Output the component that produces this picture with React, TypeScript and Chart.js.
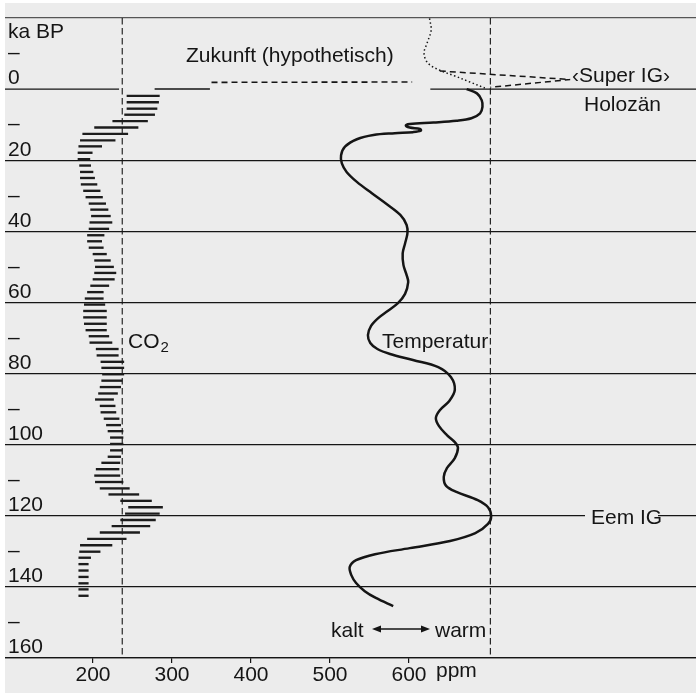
import React, { useEffect, useRef } from 'react';
import { Chart, registerables } from 'chart.js';

Chart.register(...registerables);

const FONT = "'Liberation Sans', Arial, sans-serif";
const INK = '#151515';
const BG = '#ececec';

// Axis ranges / ticks
const X_MIN = 88.6;
const X_MAX = 963.3;
const xTickValues = [200, 300, 400, 500, 600];
const Y_MIN = -20;
const Y_MAX = 160;

// CO2 range bars (ka BP, low ppm, high ppm)
const co2Ka = [
  1.9, 3.7, 5.5, 7.2, 9.0, 10.8, 12.6, 14.4, 16.1, 17.9,
  19.7, 21.5, 23.3, 25.0, 26.8, 28.6, 30.4, 32.2, 33.9, 35.7,
  37.5, 39.3, 41.1, 42.8, 44.6, 46.4, 48.2, 50.0, 51.7, 53.5,
  55.3, 57.1, 58.9, 60.6, 62.4, 64.2, 66.0, 67.8, 69.5, 71.3,
  73.1, 74.9, 76.7, 78.4, 80.2, 82.0, 83.8, 85.6, 87.3, 89.1,
  90.9, 92.7, 94.5, 96.2, 98.0, 99.8, 101.6, 103.4, 105.1, 106.9,
  108.7, 110.5, 112.3, 114.0, 115.8, 117.6, 119.4, 121.2, 122.9, 124.7,
  126.5, 128.3, 130.1, 131.8, 133.6, 135.4, 137.2, 139.0, 140.7, 142.5,
];
const co2Low = [
  243, 243, 243, 240, 225, 202, 187, 184, 182, 181,
  181, 183, 184, 184, 185, 188, 191, 195, 197, 198,
  196, 195, 193, 193, 195, 200, 202, 203, 202, 200,
  197, 193, 190, 189, 188, 188, 189, 191, 195, 196,
  204, 205, 210, 211, 212, 211, 209, 207, 203, 209,
  210, 214, 217, 219, 222, 222, 222, 219, 211, 204,
  202, 203, 209, 220, 235, 245, 241, 235, 224, 209,
  193, 184, 183, 182, 182, 182, 182, 182, 182, 182,
];
const co2High = [
  284, 283, 281, 278, 269, 257, 244, 228, 211, 199,
  196, 197, 200, 202, 205, 209, 212, 216, 219, 222,
  224, 220, 214, 211, 213, 217, 222, 226, 229, 227,
  220, 213, 213, 215, 217, 217, 217, 217, 220, 224,
  232, 232, 239, 239, 239, 237, 235, 231, 226, 228,
  229, 233, 235, 238, 238, 238, 237, 235, 234, 233,
  234, 238, 246, 258, 274, 288, 284, 279, 272, 259,
  242, 224, 209, 197, 194, 194, 194, 194, 194, 194,
];

// Present-day CO2 and hypothetical future
const co2NowKa = [0, 0];
const co2NowPpm = [278, 348];
const futureKa = [-1.9, -2.0];
const futurePpm = [350, 604];

// Temperature curve (relative position on the cold -> warm axis)
const tempKa = [
  0, 1.2, 3.1, 5.0, 6.8, 8.2, 8.9, 9.4, 9.8, 10.2,
  10.8, 11.2, 11.7, 12.1, 12.4, 12.9, 14.1, 16.2, 18.6, 20.9,
  23.3, 26.1, 29.3, 32.4, 35.4, 38.2, 40.6, 43.4, 46.2, 49.5,
  52.3, 54.3, 57.6, 60.2, 62.4, 64.4, 66.6, 69.2, 71.4, 73.1,
  74.5, 76.2, 78.2, 81.0, 84.6, 87.7, 90.3, 92.5, 94.8, 97.3,
  99.3, 100.9, 103.8, 106.6, 109.1, 111.6, 113.3, 115.6, 117.6, 120.1,
  122.3, 124.9, 127.1, 129.1, 130.8, 132.5, 134.4, 136.7, 138.9, 141.2,
  143.1, 145.4,
];
const tempPos = [
  673, 686, 692, 693, 690, 679, 660, 631, 601, 596,
  601, 614, 615, 605, 582, 555, 534, 519, 514, 515,
  521, 534, 553, 572, 589, 597, 598, 595, 592, 593,
  597, 599, 595, 586, 573, 561, 552, 548, 551, 560,
  576, 605, 637, 653, 658, 651, 639, 634, 638, 648,
  658, 662, 658, 648, 644, 647, 660, 687, 700, 704,
  700, 684, 652, 601, 557, 533, 525, 527, 533, 544,
  558, 580,
];

// Dotted continuation above the Holocene and dashed "Super IG" spike
const dottedKa = [-19.9, -16.6, -13.0, -10.1, -7.3, -5.3, -3.7, -2.0, -0.3];
const dottedPos = [626, 628, 623, 619, 624, 639, 658, 677, 696];
const superKa = [-5.1, -2.7, -0.5];
const superPos = [639, 804, 703];

// Reference lines
const co2RefPpm = 237;
const warmRefPos = 703;
const zeroLeftPpm = [X_MIN, 233];
const zeroRightPpm = [627, X_MAX];

const yTickLabel = (v: number): string | string[] => {
  if (v === Y_MIN) return '';
  if (v % 20 === 0) return [String(v), ''];
  return '–';
};

const pts = (xs: number[], ys: number[]) => xs.map((x, i) => ({ x, y: ys[i] }));

const annotationPlugin = {
  id: 'annotations',
  afterDatasetsDraw(chart: any) {
    const ctx = chart.ctx as CanvasRenderingContext2D;
    ctx.save();
    ctx.fillStyle = INK;
    ctx.textAlign = 'left';
    ctx.textBaseline = 'alphabetic';
    ctx.font = `21px ${FONT}`;

    // Eem IG label interrupts the 120 ka line
    const y120 = chart.scales.y.getPixelForValue(120);
    ctx.fillStyle = BG;
    ctx.fillRect(580, y120 - 4, 73, 8);
    ctx.fillStyle = INK;
    ctx.fillText('Eem IG', 586, y120 + 8);

    ctx.fillText('ka BP', 3, 35);
    ctx.fillText('Zukunft (hypothetisch)', 181, 59);
    ctx.fillText('\u2039Super IG\u203A', 567, 79);
    ctx.fillText('Holozän', 579, 108);
    ctx.fillText('Temperatur', 377, 345);
    ctx.fillText('CO', 123, 345);
    const coW = ctx.measureText('CO').width;
    ctx.font = `15px ${FONT}`;
    ctx.fillText('2', 123 + coW + 1, 349);
    ctx.font = `21px ${FONT}`;

    ctx.fillText('kalt', 326, 634);
    ctx.fillText('warm', 430, 634);
    // double arrow
    const ay = 626;
    const ax1 = 367;
    const ax2 = 425;
    ctx.strokeStyle = INK;
    ctx.lineWidth = 1.6;
    ctx.beginPath();
    ctx.moveTo(ax1 + 6, ay);
    ctx.lineTo(ax2 - 6, ay);
    ctx.stroke();
    ctx.beginPath();
    ctx.moveTo(ax1, ay);
    ctx.lineTo(ax1 + 9, ay - 3.5);
    ctx.lineTo(ax1 + 9, ay + 3.5);
    ctx.closePath();
    ctx.fill();
    ctx.beginPath();
    ctx.moveTo(ax2, ay);
    ctx.lineTo(ax2 - 9, ay - 3.5);
    ctx.lineTo(ax2 - 9, ay + 3.5);
    ctx.closePath();
    ctx.fill();

    // unit after the last x tick label
    const xs = chart.scales.x;
    ctx.textBaseline = 'alphabetic';
    ctx.fillText('ppm', 431, xs.top + 19);
    ctx.restore();
  },
};

export default function App() {
  const ref = useRef<HTMLCanvasElement | null>(null);

  useEffect(() => {
    if (!ref.current) return;
    const lineDs = (label: string, data: any[], extra: any) => ({
      type: 'line' as const,
      label,
      data,
      borderColor: INK,
      borderWidth: 1.5,
      pointRadius: 0,
      tension: 0,
      fill: false,
      xAxisID: 'x',
      yAxisID: 'y',
      ...extra,
    });

    const chart = new Chart(ref.current, {
      type: 'bar',
      data: {
        datasets: [
          {
            type: 'bar',
            label: 'CO2',
            data: co2Ka.map((k, i) => ({ y: k, x: [co2Low[i], co2High[i]] })) as any,
            backgroundColor: '#1c1c1c',
            borderWidth: 0,
            barThickness: 1.7,
            grouped: false,
            xAxisID: 'x',
            yAxisID: 'y',
          } as any,
          lineDs('Temperatur', pts(tempPos, tempKa), { borderWidth: 2.5, tension: 0.35 }),
          lineDs('dotted', pts(dottedPos, dottedKa), { borderWidth: 1.5, borderDash: [1.5, 2.5], tension: 0.35 }),
          lineDs('Super IG', pts(superPos, superKa), { borderWidth: 1.5, borderDash: [6, 4] }),
          lineDs('Zukunft', pts(futurePpm, futureKa), { borderWidth: 1.6, borderDash: [6, 4] }),
          lineDs('CO2 heute', pts(co2NowPpm, co2NowKa), { borderWidth: 1.5 }),
          lineDs('zero left', pts(zeroLeftPpm, [0, 0]), { borderWidth: 1.3 }),
          lineDs('zero right', pts(zeroRightPpm, [0, 0]), { borderWidth: 1.3 }),
          lineDs('CO2 ref', pts([co2RefPpm, co2RefPpm], [Y_MIN, Y_MAX]), { borderWidth: 1.1, borderDash: [6.5, 3.5] }),
          lineDs('warm ref', pts([warmRefPos, warmRefPos], [Y_MIN, Y_MAX]), { borderWidth: 1.1, borderDash: [6.5, 3.5] }),
        ],
      },
      options: {
        indexAxis: 'y',
        responsive: false,
        animation: false,
        events: [],
        layout: { padding: { top: 15, left: 0, right: 0, bottom: 0 } },
        plugins: {
          legend: { display: false },
          tooltip: { enabled: false },
          title: { display: false },
        },
        scales: {
          x: {
            type: 'linear',
            position: 'bottom',
            min: X_MIN,
            max: X_MAX,
            afterBuildTicks: (scale: any) => {
              scale.ticks = xTickValues.map((v) => ({ value: v }));
            },
            afterFit: (scale: any) => {
              scale.height = 35;
            },
            ticks: {
              color: INK,
              font: { family: FONT, size: 21, lineHeight: 1.2 },
              padding: 0,
              maxRotation: 0,
              autoSkip: false,
              callback: (v: any) => String(v),
            },
            grid: {
              display: true,
              drawOnChartArea: false,
              drawTicks: true,
              tickLength: 5,
              color: INK,
              lineWidth: 1.2,
            },
            border: { display: true, color: INK, width: 1.3 },
          },
          y: {
            type: 'linear',
            position: 'left',
            reverse: true,
            min: Y_MIN,
            max: Y_MAX,
            offset: false,
            afterFit: (scale: any) => {
              scale.width = 0;
            },
            ticks: {
              stepSize: 10,
              mirror: true,
              padding: 3,
              color: INK,
              autoSkip: false,
              font: { family: FONT, size: 21, lineHeight: 1.0 },
              callback: (v: any) => yTickLabel(Number(v)),
            },
            grid: {
              offset: false,
              drawTicks: false,
              lineWidth: 1.3,
              color: (c: any) => {
                const v = c.tick ? c.tick.value : 0;
                if (v === 0 || v % 20 !== 0) return 'rgba(0,0,0,0)';
                if (v === Y_MIN) return '#555';
                return INK;
              },
            },
            border: { display: false },
          },
        },
      } as any,
      plugins: [annotationPlugin],
    });
    return () => chart.destroy();
  }, []);

  return (
    <div
      style={{
        position: 'absolute',
        left: 5,
        top: 3,
        width: 691,
        height: 690,
        background: BG,
      }}
    >
      <canvas ref={ref} width={691} height={690} style={{ display: 'block' }} />
    </div>
  );
}
